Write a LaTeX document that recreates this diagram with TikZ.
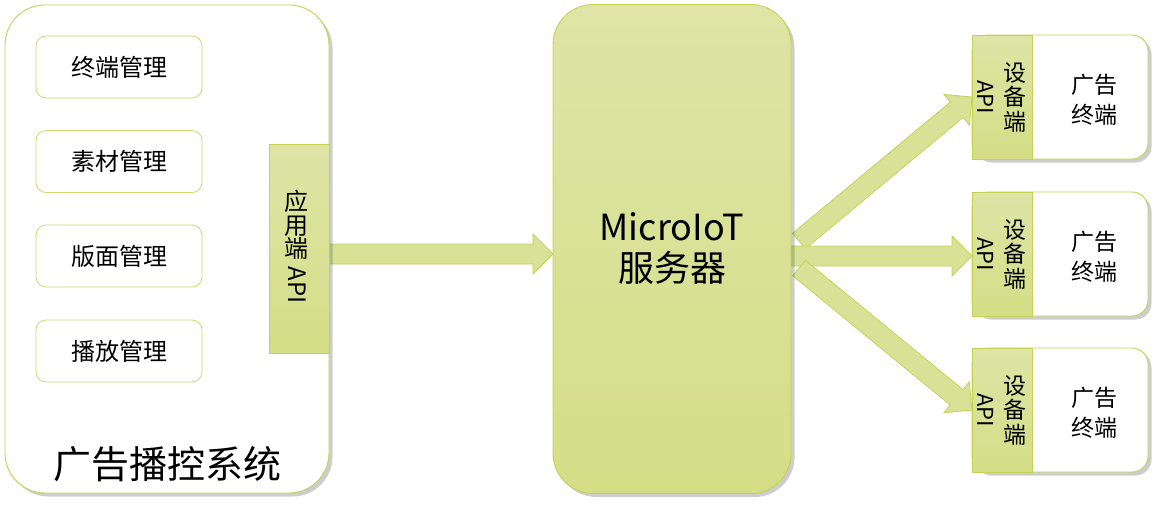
\documentclass[tikz,border=0pt]{standalone}
\usepackage{fontspec}
\setmainfont{Noto Sans CJK SC}
\usetikzlibrary{calc,shadows,backgrounds}
\definecolor{gtop}{RGB}{222,229,166}
\definecolor{gbot}{RGB}{211,222,134}
\definecolor{gmid}{RGB}{216,226,150}
\definecolor{gline}{RGB}{196,210,84}
\definecolor{iline}{RGB}{206,218,110}
\newcommand\blockarrow[2]{%
  \coordinate (tmpb) at ($(#2)!20pt!(#1)$);
  \draw[garrow] ($(#1)!10pt!90:(#2)$) -- ($(tmpb)!10pt!90:(#2)$) -- ($(tmpb)!20pt!90:(#2)$)
    -- (#2) -- ($(tmpb)!20pt!-90:(#2)$) -- ($(tmpb)!10pt!-90:(#2)$) -- ($(#1)!10pt!-90:(#2)$) -- cycle;}
\begin{document}
\begin{tikzpicture}[x=1pt,y=-1pt,
  shad/.style={drop shadow={shadow xshift=3.5pt,shadow yshift=-3.5pt,opacity=0.28,fill=black!70}},
  panel/.style={draw=gline,line width=0.9pt,fill=white,rounded corners=40pt,inner sep=0pt,outer sep=0pt,shad},
  greenpanel/.style={draw=gline,line width=0.9pt,top color=gtop,bottom color=gbot,rounded corners=40pt,inner sep=0pt,outer sep=0pt,shad},
  item/.style={draw=iline,line width=0.8pt,fill=white,rounded corners=10pt,minimum width=166pt,minimum height=62pt,inner sep=0pt,outer sep=0pt,font=\fontsize{24pt}{28pt}\selectfont},
  apibox/.style={draw=gline,line width=0.9pt,top color=gtop,bottom color=gbot,inner sep=0pt,outer sep=0pt},
  term/.style={draw=gline,line width=0.9pt,fill=white,rounded corners=16pt,minimum width=176pt,minimum height=124pt,inner sep=0pt,outer sep=0pt,shad},
  garrow/.style={fill=gmid,draw=gline,line width=0.8pt,line join=miter},
  txt/.style={inner sep=0pt,outer sep=0pt,align=center}]
\useasboundingbox (0,0) rectangle (1161,509);

% left system
\node[panel,minimum width=324pt,minimum height=488pt] (sys) at (167,249) {};
\node[item] (i1) at (119,67) {终端管理};
\node[item] (i2) at (119,161.5) {素材管理};
\node[item] (i3) at (119,256) {版面管理};
\node[item] (i4) at (119,351) {播放管理};
\node[txt,font=\fontsize{38pt}{42pt}\selectfont] (title) at (167,464) {广告播控系统};
\node[apibox,minimum width=60pt,minimum height=209pt] (lapi) at (299,248.5) {};
\node[txt,font=\fontsize{24pt}{23.5pt}\selectfont] (lapit) at (296,225) {应\\用\\端};
\node[txt,rotate=-90,font=\fontsize{24pt}{28pt}\selectfont] (lapia) at (297,285) {API};

% server
\node[greenpanel,minimum width=238pt,minimum height=489pt,align=center,font=\fontsize{36pt}{41pt}\selectfont] (srv) at (672,249) {MicroIoT\\服务器};

% terminals
\foreach \k/\y in {1/97,2/254,3/410}{
  \node[term] (t\k) at (1060,\y) {};
  \node[txt,font=\fontsize{23pt}{30pt}\selectfont] (tt\k) at (1094,\y+3) {广告\\终端};
  \node[apibox,minimum width=60pt,minimum height=124pt] (d\k) at (1002,\y) {};
  \node[txt,font=\fontsize{23pt}{24.5pt}\selectfont] (ds\k) at (1015,\y) {设\\备\\端};
  \node[txt,rotate=-90,font=\fontsize{22pt}{26pt}\selectfont] (da\k) at (986,\y) {API};
}

% arrows
\coordinate (la) at ($(lapi.east)+(0,5.5)$);
\coordinate (lt) at ($(srv.west)+(0,5)$);
\coordinate (o1) at ($(srv.east)+(8,-8)$);
\coordinate (o2) at ($(srv.east)+(0,7)$);
\coordinate (o3) at ($(srv.east)+(8,19)$);
\coordinate (e1) at (d1.west);
\coordinate (e2) at ($(d2.west)+(0,2)$);
\coordinate (e3) at (d3.west);
\begin{scope}[on background layer]
\blockarrow{la}{lt}
\blockarrow{o1}{e1}
\blockarrow{o2}{e2}
\blockarrow{o3}{e3}
\end{scope}
\end{tikzpicture}
\end{document}
